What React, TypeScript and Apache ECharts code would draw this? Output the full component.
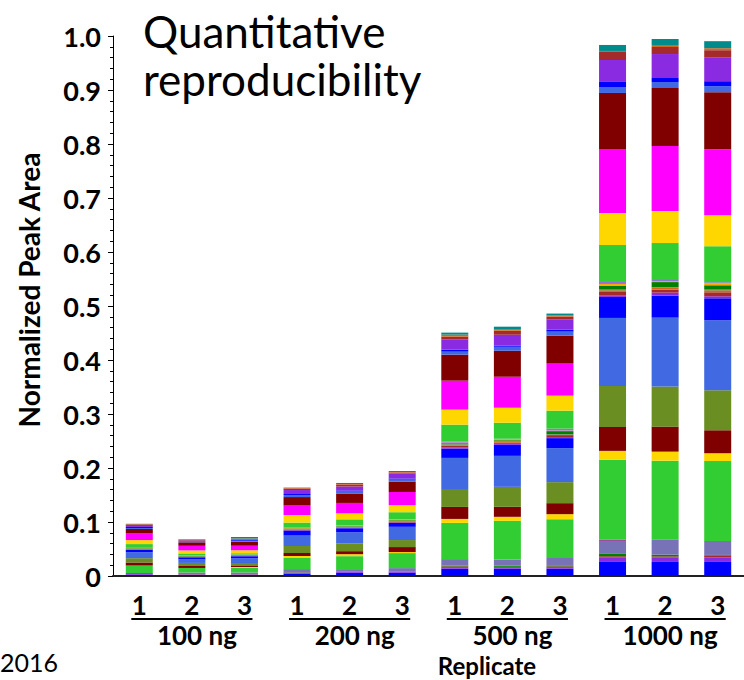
import React, { useEffect, useRef } from "react";
import * as echarts from "echarts";

const replicates = ["1", "2", "3", "1", "2", "3", "1", "2", "3", "1", "2", "3"];
const doses = ["100 ng", "200 ng", "500 ng", "1000 ng"];
const yTickLabels = ["0", "0.1", "0.2", "0.3", "0.4", "0.5", "0.6", "0.7", "0.8", "0.9", "1.0"];

// stacked segments, bottom to top (one value per replicate bar)
const p01 = [0.0024, 0.0019, 0.0019, 0.0043, 0.0061, 0.0061, 0.0135, 0.0135, 0.0135, 0.026, 0.026, 0.026];
const p02 = [0.003, 0.001, 0.001, 0.0019, 0.0019, 0.0019, 0.003, 0.003, 0.003, 0.008, 0.008, 0.008];
const p03 = [0, 0.0005, 0.0005, 0.0005, 0.0005, 0.0005, 0.0013, 0.0005, 0.0013, 0.0026, 0.0024, 0.0037];
const p04 = [0, 0, 0, 0.0005, 0.0005, 0.0005, 0.0013, 0.0024, 0.0009, 0.0043, 0.0031, 0.0013];
const p05 = [0, 0.003, 0.003, 0.0056, 0.0037, 0.0056, 0.0111, 0.0111, 0.0148, 0.0246, 0.0278, 0.0259];
const p06 = [0, 0, 0, 0, 0, 0, 0.0009, 0, 0, 0.0019, 0, 0];
const p07 = [0.014, 0.0085, 0.0085, 0.0205, 0.024, 0.0278, 0.0672, 0.0717, 0.0717, 0.1476, 0.1463, 0.1481];
const p08 = [0, 0, 0.0019, 0.0037, 0.0037, 0.0019, 0.0074, 0.0074, 0.0093, 0.0167, 0.0167, 0.0143];
const p09 = [0.0056, 0.0037, 0.0019, 0.0056, 0.0056, 0.0093, 0.0222, 0.0185, 0.0204, 0.0444, 0.0463, 0.0426];
const p10 = [0.008, 0.0056, 0.0056, 0.013, 0.014, 0.013, 0.0315, 0.037, 0.0389, 0.0759, 0.0741, 0.0741];
const p11 = [0.0111, 0.0067, 0.0085, 0.0193, 0.021, 0.0245, 0.0593, 0.0574, 0.063, 0.1259, 0.1278, 0.1296];
const p12 = [0.0043, 0.0037, 0.0037, 0.0093, 0.0074, 0.0074, 0.0172, 0.0204, 0.0185, 0.0389, 0.0407, 0.0407];
const p13 = [0.0004, 0.0004, 0.0004, 0.0006, 0.0006, 0.0006, 0.0019, 0.0019, 0.0019, 0.0031, 0.0056, 0.0037];
const p14 = [0.0009, 0.0006, 0.0006, 0.0009, 0.0009, 0.0009, 0.0037, 0.0019, 0.0037, 0.0061, 0.0056, 0.0074];
const p15 = [0.0004, 0.0004, 0.0004, 0.0009, 0.0009, 0.0013, 0.0019, 0.0019, 0.0009, 0.0031, 0.0037, 0.0037];
const p16 = [0.0004, 0.0004, 0.0004, 0.0006, 0.0006, 0.0006, 0.0013, 0.0009, 0.0009, 0.0019, 0.0009, 0.0019];
const p17 = [0.0009, 0.0009, 0.0009, 0.0009, 0.0009, 0.0013, 0.0013, 0.0019, 0.0056, 0.0061, 0.0093, 0.0074];
const p18 = [0.0004, 0.0004, 0.0004, 0.0009, 0.0009, 0.0013, 0.0009, 0.0019, 0.0009, 0.0037, 0.0019, 0.0037];
const p19 = [0.0004, 0.0004, 0.0004, 0.0006, 0.0006, 0.0006, 0.0019, 0.0009, 0.0037, 0.0037, 0.0037, 0.0019];
const p20 = [0.0069, 0.0037, 0.0019, 0.0093, 0.0111, 0.013, 0.0315, 0.0296, 0.0333, 0.0685, 0.0667, 0.0667];
const p21 = [0.0074, 0.0056, 0.0056, 0.014, 0.0111, 0.013, 0.0278, 0.0278, 0.0278, 0.0593, 0.0593, 0.0574];
const p22 = [0.0122, 0.0085, 0.0085, 0.0175, 0.0193, 0.0245, 0.0537, 0.0574, 0.0593, 0.1185, 0.1204, 0.1222];
const p23 = [0.0083, 0.0065, 0.0074, 0.0158, 0.0175, 0.0193, 0.0481, 0.0481, 0.0519, 0.1037, 0.1074, 0.1056];
const p24 = [0.0019, 0.0019, 0.0019, 0.0037, 0.0037, 0.0037, 0.0056, 0.0074, 0.0074, 0.0111, 0.0111, 0.0111];
const p25 = [0.0019, 0.0009, 0.0019, 0.0019, 0.0019, 0.0019, 0.0037, 0.0019, 0.0037, 0.0093, 0.0074, 0.0093];
const p26 = [0.0019, 0.0006, 0.0006, 0.0074, 0.0074, 0.0093, 0.0185, 0.0204, 0.0185, 0.0407, 0.0444, 0.0444];
const p27 = [0.0028, 0.0009, 0.0009, 0.0028, 0.0037, 0.0019, 0.0056, 0.0074, 0.0056, 0.0148, 0.013, 0.013];
const p28 = [0.0006, 0.0006, 0.0006, 0.0012, 0.0009, 0.0009, 0.0037, 0.0019, 0.0019, 0.0019, 0.0037, 0.0037];
const p29 = [0.0006, 0.0009, 0.003, 0.0006, 0.0019, 0.0019, 0.0037, 0.0056, 0.0037, 0.0111, 0.0111, 0.013];

const segmentValues = [
  p01, p02, p03, p04, p05, p06, p07, p08, p09, p10, p11, p12, p13, p14, p15,
  p16, p17, p18, p19, p20, p21, p22, p23, p24, p25, p26, p27, p28, p29,
];
const segmentColors = [
  "#0000FF", "#8A2BE2", "#A52A2A", "#008000", "#7872B6", "#800080", "#32CD32", "#FFD700",
  "#800000", "#6B8E23", "#4169E1", "#0000FF", "#8A2BE2", "#A52A2A", "#D2691E", "#2E8B57",
  "#008000", "#FFA500", "#9370DB", "#32CD32", "#FFD700", "#FF00FF", "#800000", "#4169E1",
  "#0000FF", "#8A2BE2", "#A52A2A", "#D2691E", "#008B8B",
];

const FONT = "Lato, 'Open Sans', sans-serif";

export default function App() {
  const ref = useRef<HTMLDivElement>(null);
  useEffect(() => {
    const chart = echarts.init(ref.current!, null, { renderer: "svg" });
    chart.setOption({
      animation: false,
      grid: { left: 113, right: -10, top: 36, bottom: 104 },
      xAxis: [
        {
          type: "category",
          data: replicates,
          axisLine: { lineStyle: { color: "#222", width: 2 } },
          axisTick: { alignWithLabel: true, length: 5, lineStyle: { color: "#222", width: 2 } },
          axisLabel: { color: "#000", fontFamily: FONT, fontWeight: "bold", fontSize: 26, margin: 16 },
        },
        {
          type: "category",
          data: doses,
          position: "bottom",
          axisLine: { show: false },
          axisTick: { show: false },
          axisLabel: {
            color: "#000", fontFamily: FONT, fontWeight: "bold", fontSize: 26, margin: 46,
            padding: [0, 0, 0, 10],
          },
        },
      ],
      yAxis: {
        type: "value",
        min: 0,
        max: 1,
        interval: 0.1,
        axisLine: { show: true, lineStyle: { color: "#000", width: 1 } },
        axisTick: { show: true, length: 5, lineStyle: { color: "#000" } },
        minorTick: { show: true, splitNumber: 5, length: 3, lineStyle: { color: "#000" } },
        splitLine: { show: false },
        axisLabel: {
          color: "#000", fontFamily: FONT, fontWeight: "bold", fontSize: 27, margin: 12,
          formatter: (_v: number, i: number) => yTickLabels[i],
        },
      },
      series: segmentValues.map((vals, i) => ({
        type: "bar",
        stack: "total",
        xAxisIndex: 0,
        barWidth: 27,
        data: vals,
        itemStyle: { color: segmentColors[i] },
        emphasis: { disabled: true },
      })),
    });

    const underlines = doses.map((_d, g) => {
      const a = chart.convertToPixel({ xAxisIndex: 0 }, g * 3) as number;
      const b = chart.convertToPixel({ xAxisIndex: 0 }, g * 3 + 2) as number;
      return {
        type: "line",
        shape: { x1: a - 8, y1: 619, x2: b + 8, y2: 619 },
        style: { stroke: "#000", lineWidth: 2 },
      };
    });

    chart.setOption({
      graphic: [
        ...underlines,
        {
          type: "text", x: 29, y: 290, rotation: Math.PI / 2,
          style: { text: "Normalized Peak Area", fontFamily: FONT, fontWeight: "bold", fontSize: 28, fill: "#000", align: "center", verticalAlign: "middle" },
        },
        {
          type: "text", x: 143, y: 31,
          style: { text: "Quantitative", fontFamily: FONT, fontSize: 44, fill: "#000", verticalAlign: "middle" },
        },
        {
          type: "text", x: 143, y: 79,
          style: { text: "reproducibility", fontFamily: FONT, fontSize: 44, fill: "#000", verticalAlign: "middle" },
        },
        {
          type: "text", x: 487, y: 665,
          style: { text: "Replicate", fontFamily: FONT, fontWeight: "bold", fontSize: 24, fill: "#000", align: "center", verticalAlign: "middle" },
        },
        {
          type: "text", x: 0, y: 662,
          style: { text: "2016", fontFamily: FONT, fontSize: 25, fill: "#000", verticalAlign: "middle" },
        },
      ],
    });
    return () => chart.dispose();
  }, []);
  return <div ref={ref} style={{ position: "fixed", left: 0, top: 0, width: 744, height: 680, background: "#fff" }} />;
}
